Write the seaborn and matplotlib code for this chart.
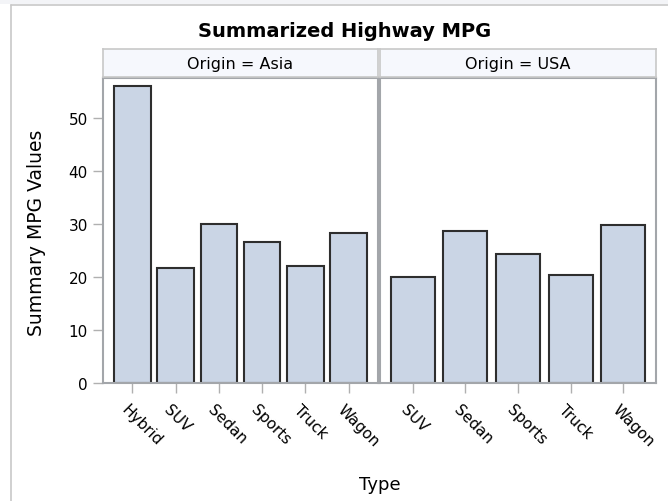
import matplotlib
matplotlib.use("Agg")
import matplotlib.pyplot as plt
import seaborn as sns
import pandas as pd
from matplotlib.patches import Rectangle
from matplotlib.lines import Line2D
import matplotlib.transforms as mtransforms

# ---- data ----
asia_types = ["Hybrid", "SUV", "Sedan", "Sports", "Truck", "Wagon"]
asia_mpg = [56.0, 21.7, 29.9, 26.6, 22.0, 28.2]
usa_types = ["SUV", "Sedan", "Sports", "Truck", "Wagon"]
usa_mpg = [20.0, 28.6, 24.3, 20.4, 29.7]
origins = ["Asia", "USA"]
y_ticks = [0, 10, 20, 30, 40, 50]

df = pd.DataFrame({
    "Origin": ["Asia"] * len(asia_types) + ["USA"] * len(usa_types),
    "Type": asia_types + usa_types,
    "MPG": asia_mpg + usa_mpg,
})

sns.set_theme(style="white")
plt.rcParams["font.family"] = ["DejaVu Sans"]
plt.rcParams["text.color"] = "black"
plt.rcParams["xtick.color"] = "black"
plt.rcParams["ytick.color"] = "black"
plt.rcParams["axes.labelcolor"] = "black"

W, H = 668, 502
fig = plt.figure(figsize=(W / 100, H / 100), dpi=100)
fig.patch.set_facecolor("white")

def fx(px):
    return px / W

def fy(py):
    return 1 - py / H

# outer frame (cropped)
fig.patches.append(Rectangle((0, fy(5)), 1, 1 - fy(5), transform=fig.transFigure,
                             facecolor="#f3f4f7", edgecolor="none", zorder=0))
fig.lines.append(Line2D([fx(11), 1], [fy(5.5), fy(5.5)], transform=fig.transFigure,
                        color="#c8c8c8", lw=1.2))
fig.lines.append(Line2D([fx(11), fx(11)], [0, fy(5.5)], transform=fig.transFigure,
                        color="#c8c8c8", lw=1.2))

bar_color = "#cad5e5"
edge_color = "#2e2e2e"
spine_color = "#a3a6aa"
tick_color = "#b0b0b0"

panels = [
    ("Asia", asia_types, 103, 378, 0.68),
    ("USA", usa_types, 380, 656, 0.62),
]
top, bottom = 79, 384
for i, (org, order, x0, x1, margin) in enumerate(panels):
    ax = fig.add_axes([fx(x0), fy(bottom), fx(x1 - x0), fy(top) - fy(bottom)])
    sub = df[df["Origin"] == org]
    sns.barplot(data=sub, x="Type", y="MPG", order=order, ax=ax,
                color=bar_color, edgecolor=edge_color, linewidth=1.5,
                width=0.84, saturation=1)
    ax.set_xlim(-margin, len(order) - 1 + margin)
    ax.set_ylim(0, 57.5)
    for s in ax.spines.values():
        s.set_color(spine_color)
        s.set_linewidth(1.5)
        s.set_visible(True)
    ax.tick_params(axis="x", bottom=True, length=7.5, width=1, color=tick_color,
                   labelsize=11, pad=2)
    ax.set_xticks(range(len(order)))
    ax.set_xticklabels(order, rotation=-45, ha="left", va="center",
                       rotation_mode="anchor")
    offset = mtransforms.ScaledTranslation(-9 / 100, -11 / 100, fig.dpi_scale_trans)
    for lab in ax.get_xticklabels():
        lab.set_transform(lab.get_transform() + offset)
    ax.set_xlabel("")
    ax.set_ylabel("")
    ax.set_yticks(y_ticks)
    if i == 0:
        ax.tick_params(axis="y", left=True, length=7, width=1, color=tick_color,
                       labelsize=11, pad=4)
    else:
        ax.tick_params(axis="y", left=False, labelleft=False)
    # strip
    sax = fig.add_axes([fx(x0), fy(78), fx(x1 - x0), fy(50) - fy(78)])
    sax.set_facecolor("#f6f8fd")
    sax.set_xticks([])
    sax.set_yticks([])
    for s in sax.spines.values():
        s.set_color("#c8c8c8")
        s.set_linewidth(1.2)
    sax.text(0.5, 0.5, f"Origin = {org}", ha="center", va="center",
             fontsize=11.5, transform=sax.transAxes)

fig.text(fx(345), fy(32), "Summarized Highway MPG", ha="center", va="center",
         fontsize=14, fontweight="bold")
fig.text(fx(380), fy(485), "Type", ha="center", va="center", fontsize=13)
fig.text(fx(37), fy(233), "Summary MPG Values", ha="center", va="center",
         rotation=90, fontsize=13.5)

fig.savefig("out.png", dpi=100, facecolor=fig.get_facecolor())
